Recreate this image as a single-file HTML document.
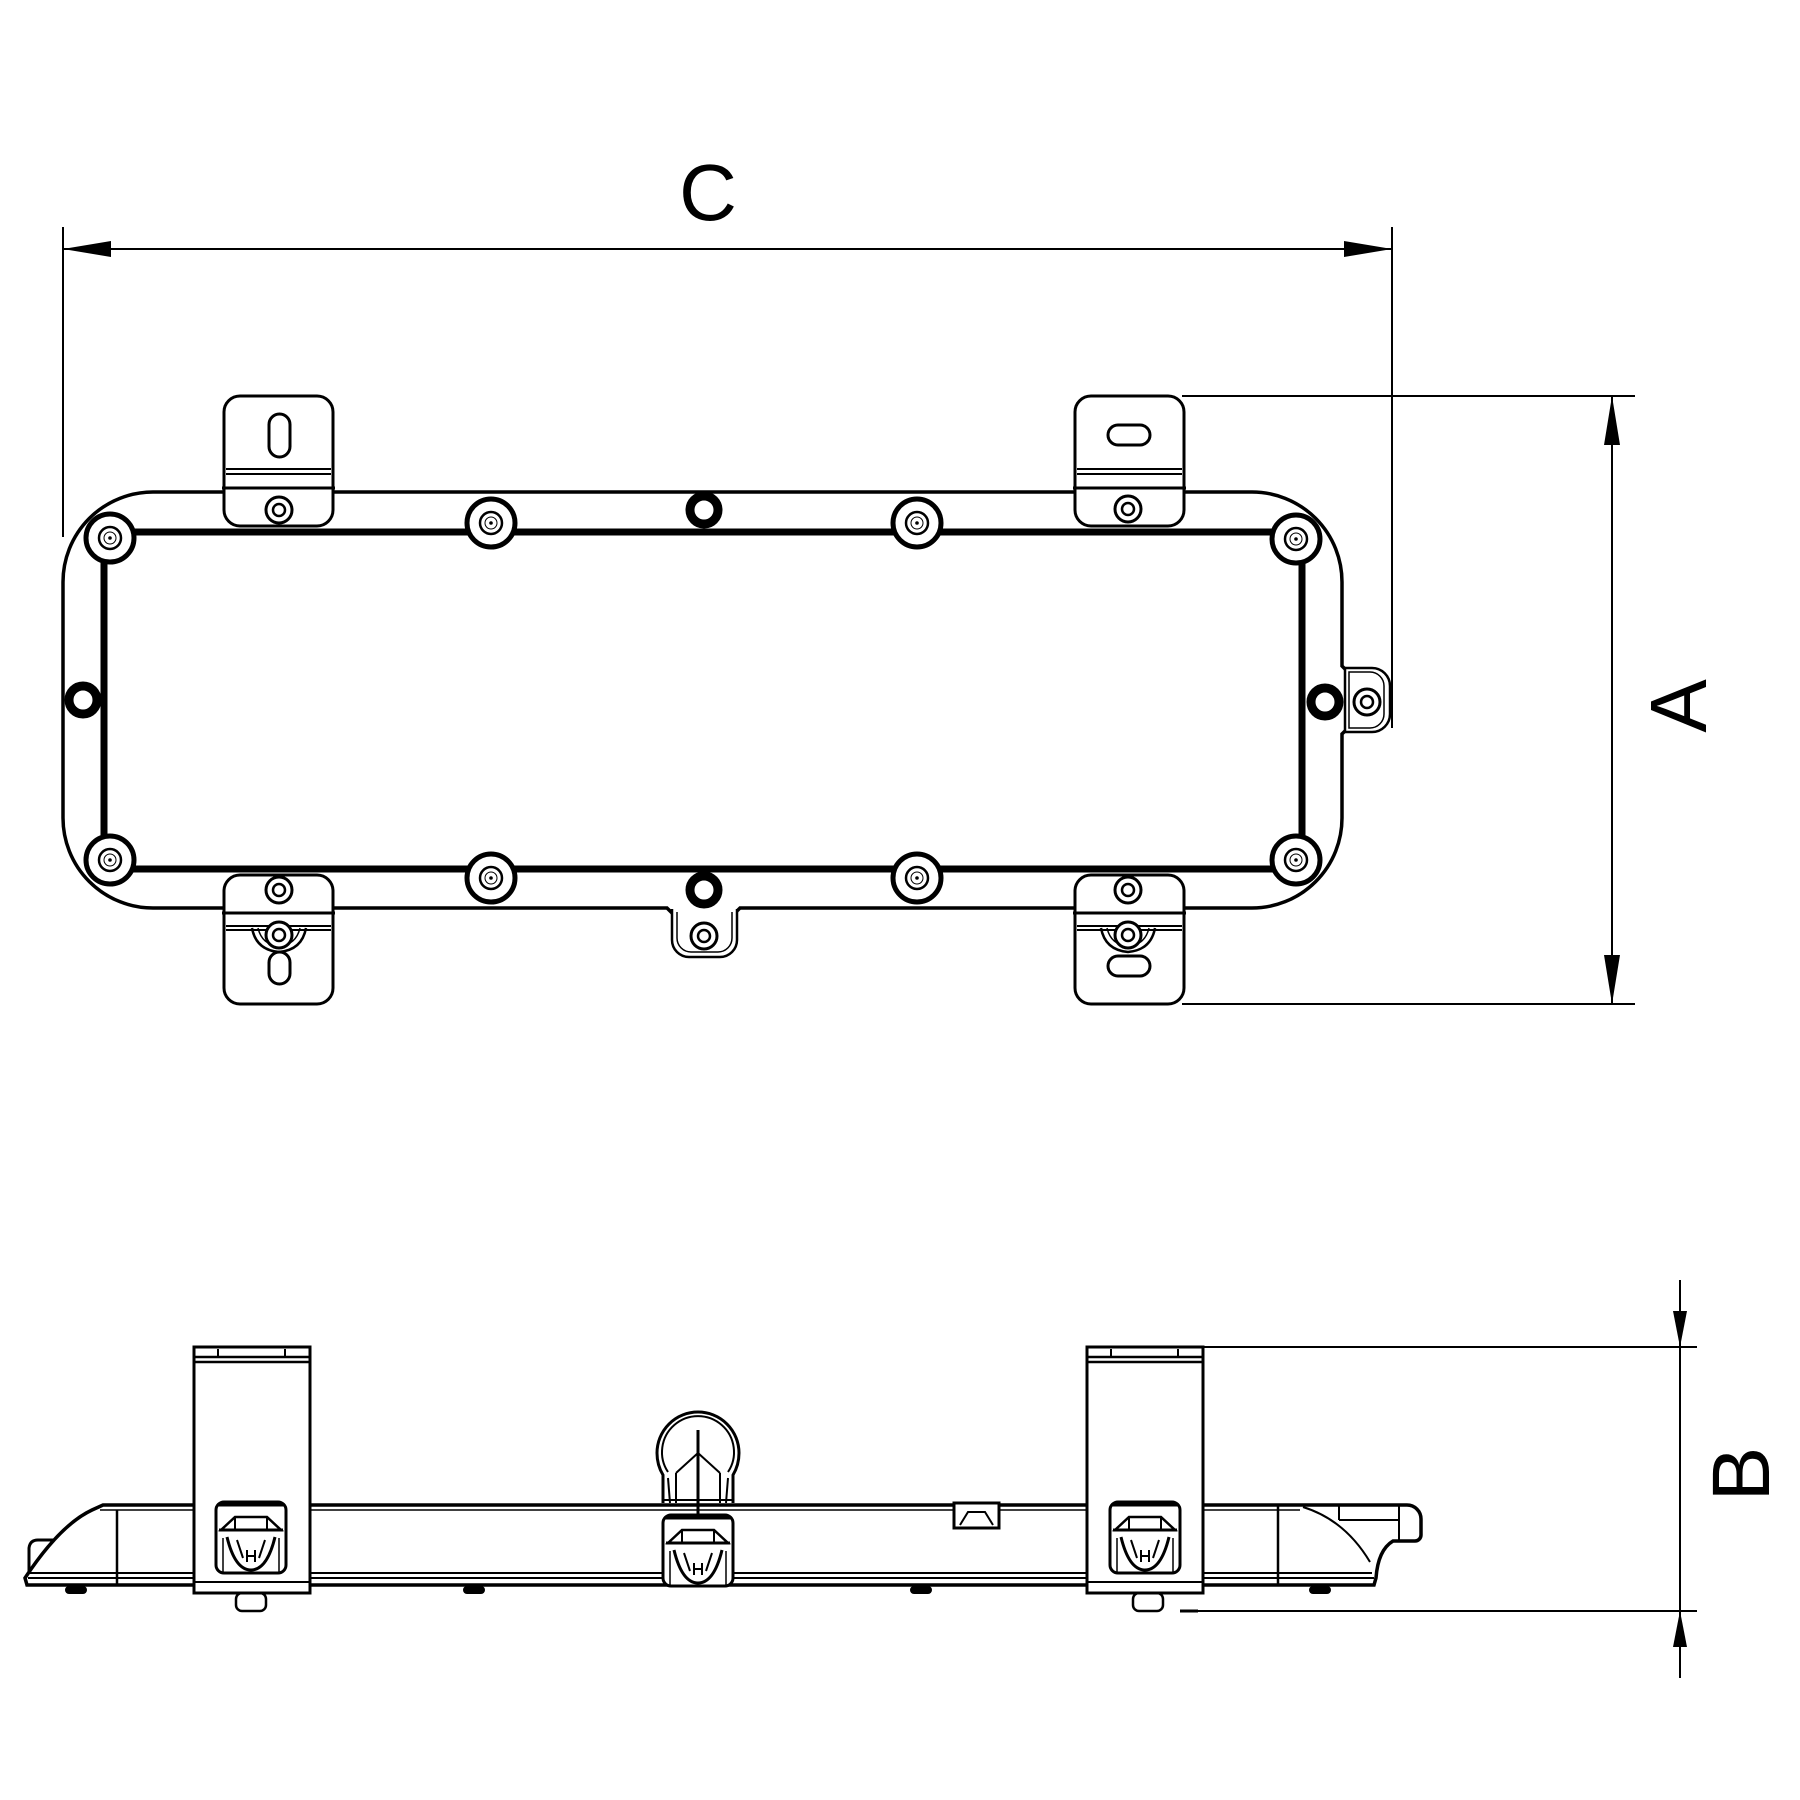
<!DOCTYPE html>
<html><head><meta charset="utf-8"><style>
html,body{margin:0;padding:0;background:#fff;}
svg{display:block;}
text{font-family:"Liberation Sans",Arial,sans-serif;fill:#000;}
</style></head><body>
<svg width="1800" height="1800" viewBox="0 0 1800 1800" xmlns="http://www.w3.org/2000/svg">
<defs>
<g id="scr"><circle r="24" fill="#fff" stroke="#000" stroke-width="5"/><circle r="11" fill="none" stroke="#000" stroke-width="2.5"/><circle r="6" fill="none" stroke="#000" stroke-width="1"/><circle r="1.8" fill="#000"/></g>
<g id="tscr"><circle r="13" fill="#fff" stroke="#000" stroke-width="3"/><circle r="6" fill="none" stroke="#000" stroke-width="2.5"/></g>
<g id="hole"><circle r="14" fill="#fff" stroke="#000" stroke-width="9"/></g>
<g id="clip" fill="none" stroke="#000">
 <rect x="-35" y="0" width="70" height="71" rx="8" fill="#fff" stroke-width="3"/>
 <line x1="-34" y1="3" x2="34" y2="3" stroke-width="3"/>
 <path d="M-30 28 L-16 15 L16 15 L30 28 Z" stroke-width="2.5"/>
 <line x1="-32" y1="28" x2="32" y2="28" stroke-width="3"/>
 <line x1="-16" y1="15" x2="-16" y2="28" stroke-width="2"/><line x1="16" y1="15" x2="16" y2="28" stroke-width="2"/>
 <path d="M-24 35 Q-16 68 0 68 Q16 68 24 35" stroke-width="3"/>
 <path d="M-14 38 L-8 56 M14 38 L8 56 M-4 48 L-4 60 M4 48 L4 60 M-4 54 L4 54" stroke-width="2"/>
 <line x1="-28" y1="36" x2="-28" y2="70" stroke-width="1.5"/><line x1="28" y1="36" x2="28" y2="70" stroke-width="1.5"/>
</g>
</defs>

<g stroke="#000" stroke-width="2" fill="none">
 <line x1="63" y1="227" x2="63" y2="537"/>
 <line x1="1392" y1="227" x2="1392" y2="728"/>
 <line x1="63" y1="249" x2="1392" y2="249"/>
</g>
<path d="M63 249 L111 241 L111 257 Z" fill="#000"/>
<path d="M1392 249 L1344 241 L1344 257 Z" fill="#000"/>
<text x="708" y="220" font-size="80" text-anchor="middle">C</text>

<g stroke="#000" stroke-width="2">
 <line x1="1182" y1="396" x2="1635" y2="396"/>
 <line x1="1182" y1="1004" x2="1635" y2="1004"/>
 <line x1="1612" y1="396" x2="1612" y2="1004"/>
</g>
<path d="M1612 396 L1604 445 L1620 445 Z" fill="#000"/>
<path d="M1612 1004 L1604 955 L1620 955 Z" fill="#000"/>
<text transform="translate(1706,706) rotate(-90)" font-size="80" text-anchor="middle">A</text>

<path d="M153 492 L1252 492 A90 90 0 0 1 1342 582 L1342 666 L1346 670 L1346 730 L1342 734 L1342 818 A90 90 0 0 1 1252 908 L740 908 L735 913 L672 913 L667 908 L153 908 A90 90 0 0 1 63 818 L63 582 A90 90 0 0 1 153 492 Z" fill="none" stroke="#000" stroke-width="3.5"/>
<rect x="104" y="532" width="1198" height="337" rx="22" fill="none" stroke="#000" stroke-width="7"/>

<path d="M1345 668 L1372 668 A18 18 0 0 1 1390 686 L1390 714 A18 18 0 0 1 1372 732 L1345 732 Z" fill="#fff" stroke="#000" stroke-width="2.5"/>
<path d="M1349 672 L1370 672 A14 14 0 0 1 1384 686 L1384 714 A14 14 0 0 1 1370 728 L1349 728 Z" fill="none" stroke="#000" stroke-width="1.5"/>
<use href="#tscr" x="1367" y="702"/>
<path d="M672 909 L672 940 A17 17 0 0 0 689 957 L720 957 A17 17 0 0 0 737 940 L737 909" fill="#fff" stroke="#000" stroke-width="2.5"/>
<path d="M677 912 L677 938 A14 14 0 0 0 691 952 L718 952 A14 14 0 0 0 732 938 L732 912" fill="none" stroke="#000" stroke-width="1.5"/>
<use href="#tscr" x="704" y="936"/>

<use href="#hole" x="83" y="700"/>
<use href="#hole" x="1325" y="702"/>
<use href="#hole" x="704" y="510"/>
<use href="#hole" x="704" y="890"/>

<use href="#scr" x="110" y="538"/>
<use href="#scr" x="1296" y="539"/>
<use href="#scr" x="110" y="860"/>
<use href="#scr" x="1296" y="860"/>
<use href="#scr" x="491" y="523"/>
<use href="#scr" x="917" y="523"/>
<use href="#scr" x="491" y="878"/>
<use href="#scr" x="917" y="878"/>

<g stroke="#000" fill="#fff">
 <rect x="224" y="396" width="109" height="130" rx="16" stroke-width="3"/>
 <rect x="269" y="414" width="21" height="43" rx="10.5" stroke-width="3"/>
 <line x1="226" y1="469" x2="331" y2="469" stroke-width="2"/><line x1="226" y1="474" x2="331" y2="474" stroke-width="2"/>
 <line x1="222" y1="488" x2="335" y2="488" stroke-width="3"/>
 <rect x="1075" y="396" width="109" height="130" rx="16" stroke-width="3"/>
 <rect x="1108" y="425" width="42" height="20" rx="10" stroke-width="3"/>
 <line x1="1077" y1="469" x2="1182" y2="469" stroke-width="2"/><line x1="1077" y1="474" x2="1182" y2="474" stroke-width="2"/>
 <line x1="1073" y1="488" x2="1186" y2="488" stroke-width="3"/>
</g>
<use href="#tscr" x="279" y="510"/>
<use href="#tscr" x="1128" y="509"/>

<g stroke="#000" fill="#fff">
 <rect x="224" y="875" width="109" height="129" rx="16" stroke-width="3"/>
 <line x1="222" y1="913" x2="335" y2="913" stroke-width="3"/>
 <line x1="226" y1="926" x2="331" y2="926" stroke-width="2"/><line x1="226" y1="930" x2="331" y2="930" stroke-width="2"/>
 <path d="M252 928 Q256 950 279 952 Q302 950 306 928" fill="none" stroke-width="2.5"/>
 <path d="M258 928 Q262 945 279 946 Q296 945 300 928" fill="none" stroke-width="1.5"/>
 <rect x="269" y="952" width="21" height="32" rx="10.5" stroke-width="3"/>
 <rect x="1075" y="875" width="109" height="129" rx="16" stroke-width="3"/>
 <line x1="1073" y1="913" x2="1186" y2="913" stroke-width="3"/>
 <line x1="1077" y1="926" x2="1182" y2="926" stroke-width="2"/><line x1="1077" y1="930" x2="1182" y2="930" stroke-width="2"/>
 <path d="M1101 928 Q1105 950 1128 952 Q1151 950 1155 928" fill="none" stroke-width="2.5"/>
 <path d="M1107 928 Q1111 945 1128 946 Q1145 945 1149 928" fill="none" stroke-width="1.5"/>
 <rect x="1108" y="956" width="42" height="20" rx="10" stroke-width="3"/>
</g>
<use href="#tscr" x="279" y="890"/>
<use href="#tscr" x="279" y="935"/>
<use href="#tscr" x="1128" y="890"/>
<use href="#tscr" x="1128" y="935"/>

<g stroke="#000" stroke-width="2">
 <line x1="1203" y1="1347" x2="1697" y2="1347"/>
 <line x1="1185" y1="1611" x2="1697" y2="1611"/>
 <line x1="1680" y1="1280" x2="1680" y2="1678"/>
</g>
<path d="M1680 1347 L1673 1311 L1687 1311 Z" fill="#000"/>
<path d="M1680 1611 L1673 1647 L1687 1647 Z" fill="#000"/>
<text transform="translate(1769,1474) rotate(-90)" font-size="82" text-anchor="middle">B</text>

<g stroke="#000" fill="none">
 <path d="M103 1505 L1407 1505 A14 14 0 0 1 1421 1519 L1421 1535 A6 6 0 0 1 1415 1541 L1393 1541 Q1378 1550 1376 1578 L1374 1585 L27 1585 L25 1578 Q60 1525 92 1510 Z" stroke-width="3.5"/>
 <line x1="100" y1="1510" x2="1300" y2="1510" stroke-width="1.5"/>
 <line x1="28" y1="1573" x2="1372" y2="1573" stroke-width="2"/>
 <line x1="28" y1="1578" x2="1374" y2="1578" stroke-width="2"/>
 <line x1="117" y1="1510" x2="117" y2="1585" stroke-width="2.5"/>
 <line x1="1278" y1="1505" x2="1278" y2="1585" stroke-width="2.5"/>
 <path d="M1303 1507 Q1345 1520 1370 1562" stroke-width="2"/>
 <path d="M1339 1520 L1399 1520 M1339 1505 L1339 1520 M1399 1505 L1399 1541" stroke-width="2"/>
 <path d="M29 1573 L29 1548 Q30 1540 38 1540 L54 1540" stroke-width="3"/>
</g>
<g fill="#000">
 <rect x="65" y="1586" width="22" height="8" rx="4"/>
 <rect x="463" y="1586" width="22" height="8" rx="4"/>
 <rect x="910" y="1586" width="22" height="8" rx="4"/>
 <rect x="1309" y="1586" width="22" height="8" rx="4"/>
</g>
<g fill="#fff" stroke="#000" stroke-width="2.5">
 <rect x="236" y="1593" width="30" height="18" rx="6"/>
 <rect x="1133" y="1593" width="30" height="18" rx="6"/>
</g>
<line x1="1180" y1="1611" x2="1198" y2="1611" stroke="#000" stroke-width="3"/>

<g stroke="#000" fill="#fff">
 <rect x="194" y="1347" width="116" height="246" stroke-width="3"/>
 <line x1="194" y1="1357" x2="310" y2="1357" stroke-width="2.5"/>
 <line x1="194" y1="1362" x2="310" y2="1362" stroke-width="2.5"/>
 <line x1="218" y1="1349" x2="218" y2="1357" stroke-width="2"/><line x1="285" y1="1349" x2="285" y2="1357" stroke-width="2"/>
 <line x1="194" y1="1582" x2="310" y2="1582" stroke-width="2"/>
 <rect x="1087" y="1347" width="116" height="246" stroke-width="3"/>
 <line x1="1087" y1="1357" x2="1203" y2="1357" stroke-width="2.5"/>
 <line x1="1087" y1="1362" x2="1203" y2="1362" stroke-width="2.5"/>
 <line x1="1111" y1="1349" x2="1111" y2="1357" stroke-width="2"/><line x1="1178" y1="1349" x2="1178" y2="1357" stroke-width="2"/>
 <line x1="1087" y1="1582" x2="1203" y2="1582" stroke-width="2"/>
</g>
<use href="#clip" x="251" y="1502"/>
<use href="#clip" x="1145" y="1502"/>

<g stroke="#000" fill="none">
 <path d="M663 1503 L663 1475 Q657 1465 657 1453 A41 41 0 0 1 739 1453 Q739 1465 733 1475 L733 1503" fill="#fff" stroke-width="3"/>
 <path d="M668 1472 A36 36 0 1 1 728 1472" stroke-width="2"/>
 <path d="M668 1478 L670 1503 M728 1478 L726 1503 M676 1473 L698 1453 L720 1473 M676 1473 L676 1503 M720 1473 L720 1503" stroke-width="2"/>
 <line x1="698" y1="1430" x2="698" y2="1530" stroke-width="3"/>
 <line x1="664" y1="1500" x2="732" y2="1500" stroke-width="2"/>
</g>
<use href="#clip" x="698" y="1515"/>
<g stroke="#000" fill="#fff" stroke-width="3">
 <rect x="954" y="1503" width="45" height="25"/>
 <path d="M960 1525 L968 1512 L985 1512 L993 1525" fill="none" stroke-width="2"/>
</g>
</svg>
</body></html>
